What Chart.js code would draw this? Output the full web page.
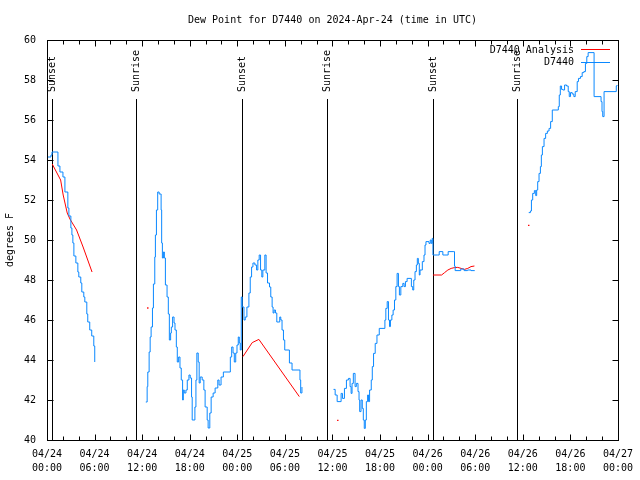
<!DOCTYPE html>
<html>
<head>
<meta charset="utf-8">
<script src="https://cdn.jsdelivr.net/npm/chart.js@4.4.1/dist/chart.umd.min.js"></script>
<style>
  html, body { margin: 0; padding: 0; background: #fff; }
</style>
</head>
<body>
<canvas id="dew" width="640" height="480"></canvas>
<script>
// observed dew point (D7440), hours since 04/24 00:00 UTC, in gaps-separated pieces
const obsHours1 = [0.13, 0.50, 0.63, 1.38, 1.63, 2.01, 2.26, 2.63, 2.76, 3.01, 3.14, 3.26, 3.39, 3.64, 3.89, 4.01, 4.26, 4.39, 4.64, 4.77, 5.02, 5.14, 5.39, 5.64, 5.90, 6.02];
const obsDew1   = [54.15, 54.25, 54.4, 53.7, 53.4, 53.15, 52.4, 51.6, 51.2, 50.6, 50.25, 49.85, 49.2, 48.85, 48.4, 48.15, 47.85, 47.4, 47.15, 46.9, 46.3, 45.9, 45.5, 45.2, 44.7, 43.9];

const obsHours2 = [12.46, 12.63, 12.71, 12.88, 13.01, 13.13, 13.30, 13.42, 13.59, 13.67, 13.80, 13.96, 14.14, 14.39, 14.46, 14.55, 14.68, 14.80, 14.93, 15.14, 15.30, 15.43, 15.59, 15.68, 15.84, 16.02, 16.14, 16.31, 16.43, 16.60, 16.77, 16.93, 17.10, 17.19, 17.31, 17.52, 17.69, 17.90, 18.06, 18.23, 18.31, 18.65, 18.78, 18.90, 19.07, 19.19, 19.32, 19.57, 19.78, 19.94, 20.20, 20.32, 20.53, 20.70, 20.95, 21.20, 21.54, 21.70, 21.95, 22.24, 23.12, 23.29, 23.46, 23.62, 23.80, 23.96, 24.12, 24.25, 24.37, 24.50, 24.62, 24.84, 25.00, 25.21, 25.46, 25.63, 25.80, 25.97, 26.22, 26.43, 26.59, 26.76, 26.93, 27.09, 27.22, 27.47, 27.63, 27.81, 28.06, 28.22, 28.39, 28.51, 28.64, 28.81, 28.98, 29.35, 29.48, 29.64, 29.82, 29.98, 30.57, 30.90, 31.90, 31.99, 32.15];
const obsDew2   = [41.9, 42.67, 43.4, 44.4, 45.15, 45.65, 46.6, 47.8, 49.15, 50.25, 51.5, 52.4, 52.3, 51.5, 49.85, 49.1, 49.4, 49.1, 47.75, 47.15, 46.3, 45.0, 45.35, 45.65, 46.15, 45.85, 45.5, 44.65, 43.9, 44.15, 43.6, 43.0, 42.0, 42.5, 42.35, 42.5, 43.0, 43.25, 43.1, 42.15, 41.0, 41.65, 43.0, 44.35, 43.9, 42.85, 43.15, 43.0, 42.5, 41.65, 41.0, 40.6, 41.35, 42.15, 42.35, 42.6, 43.0, 42.75, 43.15, 43.4, 44.15, 44.65, 44.35, 43.9, 44.35, 44.75, 45.15, 44.85, 44.5, 47.15, 46.65, 46.0, 46.15, 46.65, 47.35, 48.15, 48.65, 48.85, 48.75, 48.5, 49.0, 49.25, 48.5, 48.15, 48.5, 49.25, 48.35, 47.85, 47.65, 47.15, 46.65, 46.35, 46.5, 46.35, 45.9, 46.15, 46.0, 45.5, 45.0, 44.5, 43.85, 43.5, 43.0, 42.35, 42.65];

const obsHours3 = [36.13, 36.34, 36.59, 37.09, 37.26, 37.51, 37.76, 38.01, 38.22, 38.35, 38.47, 38.63, 38.85, 39.01, 39.22, 39.35, 39.43, 39.60, 39.76, 39.89, 40.01, 40.14, 40.27, 40.43, 40.55, 40.68, 40.89, 41.02, 41.18, 41.39, 41.61, 41.90, 42.61, 42.73, 42.90, 43.06, 43.19, 43.31, 43.49, 43.65, 43.82, 43.99, 44.15, 44.32, 44.44, 44.62, 44.87, 45.03, 45.20, 45.41, 45.95, 46.12, 46.25, 46.41, 46.58, 46.70, 46.83, 46.95, 47.04, 47.33, 47.54, 47.67, 47.79, 48.17, 48.33, 48.46, 48.58, 48.67, 49.26, 49.46, 49.92, 50.18, 50.59, 51.22, 51.39, 51.47, 52.18, 52.60, 53.02, 53.47, 53.94];
const obsDew3   = [42.53, 42.25, 41.92, 42.33, 42.08, 42.58, 43.0, 43.08, 42.67, 42.33, 42.83, 43.33, 42.67, 42.83, 42.42, 42.0, 41.42, 42.0, 41.58, 41.0, 40.58, 41.0, 41.92, 42.25, 41.92, 42.5, 43.0, 43.67, 44.33, 44.83, 45.25, 45.58, 46.0, 46.58, 46.92, 46.0, 45.67, 46.0, 46.25, 46.5, 47.0, 47.67, 48.33, 47.67, 47.25, 47.67, 47.83, 47.67, 47.92, 48.08, 47.67, 47.5, 48.0, 48.42, 48.75, 49.08, 48.83, 48.25, 48.5, 48.92, 49.25, 49.75, 49.92, 49.83, 50.0, 49.83, 50.08, 49.25, 49.25, 49.42, 49.25, 49.25, 49.42, 49.42, 48.7, 48.47, 48.55, 48.47, 48.5, 48.47, 48.47];

const obsHours4 = [60.75, 60.96, 61.09, 61.25, 61.46, 61.63, 61.75, 61.88, 62.05, 62.22, 62.34, 62.47, 62.68, 62.88, 63.10, 63.31, 63.51, 63.72, 64.48, 64.60, 64.73, 64.89, 65.06, 65.27, 65.52, 65.73, 65.86, 66.02, 66.23, 66.44, 66.61, 66.86, 67.02, 67.27, 67.49, 67.70, 67.90, 68.07, 68.24, 68.99, 69.87, 69.99, 70.08, 70.25, 71.79, 71.88];
const obsDew4   = [51.37, 51.45, 52.0, 52.33, 52.47, 52.22, 52.5, 52.92, 53.33, 53.67, 54.25, 54.67, 55.08, 55.33, 55.45, 55.58, 55.92, 56.5, 56.67, 57.25, 57.7, 57.53, 57.5, 57.75, 57.7, 57.42, 57.17, 57.37, 57.3, 57.17, 57.42, 57.92, 58.08, 58.17, 58.37, 58.42, 58.83, 59.17, 59.37, 57.17, 56.92, 56.42, 56.17, 57.42, 57.7, 57.75];

// analysis (D7440 Analysis)
const anlHours1 = [0.66, 1.72, 2.04, 2.55, 2.89, 3.73, 4.55, 5.68];
const anlDew1   = [53.8, 53.0, 52.25, 51.35, 51.05, 50.5, 49.65, 48.4];
const anlHours2 = [24.71, 25.88, 26.72, 31.82];
const anlDew2   = [44.17, 44.87, 45.03, 42.17];
const anlHours3 = [48.67, 49.76, 50.14, 50.55, 50.97, 51.39, 51.80, 52.22, 52.64, 53.06, 53.47, 53.90];
const anlDew3   = [48.25, 48.25, 48.37, 48.5, 48.58, 48.62, 48.63, 48.58, 48.53, 48.58, 48.67, 48.7];
const anlDotHours = [12.71, 36.67, 60.75];
const anlDotDew   = [46.6, 40.98, 50.73];

// sun events
const eventHours = [0.66, 11.25, 24.63, 35.29, 48.72, 59.26];
const eventNames = ["Sunset", "Sunrise", "Sunset", "Sunrise", "Sunset", "Sunrise"];

const FONT = "'DejaVu Sans Mono', monospace";
const BLUE = "#0a88ff";
const RED = "#ff0000";

function pts(hours, vals) {
  return hours.map((h, i) => ({ x: h, y: vals[i] }));
}

function obsSet(h, v) {
  return { label: "D7440", data: pts(h, v), borderColor: BLUE, borderWidth: 1, pointRadius: 0, stepped: true, fill: false };
}
function anlSet(h, v) {
  return { label: "D7440 Analysis", data: pts(h, v), borderColor: RED, borderWidth: 1, pointRadius: 0, fill: false };
}

// gnuplot-like frame, inward ticks, sun markers, title and key
const decor = {
  id: "decor",
  beforeDatasetsDraw(chart) {
    const { ctx, chartArea: a, scales } = chart;
    ctx.save();
    ctx.strokeStyle = "#000";
    ctx.lineWidth = 1;
    ctx.fillStyle = "#000";
    ctx.font = "10px " + FONT;
    const yTop = Math.round(scales.y.getPixelForValue(57.05));
    eventHours.forEach((h, i) => {
      const x = Math.round(scales.x.getPixelForValue(h)) + 0.5;
      ctx.beginPath();
      ctx.moveTo(x, yTop);
      ctx.lineTo(x, a.bottom);
      ctx.stroke();
      ctx.save();
      ctx.translate(x, yTop - 7);
      ctx.rotate(-Math.PI / 2);
      ctx.textAlign = "left";
      ctx.textBaseline = "middle";
      ctx.fillText(eventNames[i], 0, 0);
      ctx.restore();
    });
    ctx.restore();
  },
  afterDraw(chart) {
    const { ctx, chartArea: a, scales } = chart;
    ctx.save();
    ctx.strokeStyle = "#000";
    ctx.lineWidth = 1;
    const L = Math.round(a.left) + 0.5, R = Math.round(a.right) + 0.5;
    const T = Math.round(a.top) + 0.5, B = Math.round(a.bottom) + 0.5;
    ctx.strokeRect(L, T, R - L, B - T);
    ctx.beginPath();
    for (let h = 0; h <= 72; h += 2) {
      const x = Math.round(scales.x.getPixelForValue(h)) + 0.5;
      const len = h % 6 === 0 ? 6 : 4;
      ctx.moveTo(x, B); ctx.lineTo(x, B - len);
      ctx.moveTo(x, T); ctx.lineTo(x, T + len);
    }
    for (let v = 40; v <= 60; v += 2) {
      const y = Math.round(scales.y.getPixelForValue(v)) + 0.5;
      ctx.moveTo(L, y); ctx.lineTo(L + 6, y);
      ctx.moveTo(R, y); ctx.lineTo(R - 6, y);
    }
    ctx.stroke();

    // title
    ctx.fillStyle = "#000";
    ctx.font = "10px " + FONT;
    ctx.textAlign = "center";
    ctx.textBaseline = "middle";
    ctx.fillText("Dew Point for D7440 on 2024-Apr-24 (time in UTC)", (a.left + a.right) / 2, 20);

    // key
    const keys = [["D7440 Analysis", RED], ["D7440", BLUE]];
    ctx.textAlign = "right";
    keys.forEach(([label, color], i) => {
      const y = 50 + i * 12.5;
      ctx.fillStyle = "#000";
      ctx.fillText(label, 574, y);
      ctx.strokeStyle = color;
      ctx.beginPath();
      ctx.moveTo(581, Math.round(y) - 0.5);
      ctx.lineTo(610, Math.round(y) - 0.5);
      ctx.stroke();
    });
    ctx.restore();
  }
};

new Chart(document.getElementById("dew"), {
  type: "line",
  data: {
    datasets: [
      obsSet(obsHours1, obsDew1),
      obsSet(obsHours2, obsDew2),
      obsSet(obsHours3, obsDew3),
      obsSet(obsHours4, obsDew4),
      anlSet(anlHours1, anlDew1),
      anlSet(anlHours2, anlDew2),
      anlSet(anlHours3, anlDew3),
      { label: "D7440 Analysis", data: pts(anlDotHours, anlDotDew), showLine: false, pointRadius: 1,
        pointStyle: "rect", backgroundColor: RED, borderColor: RED, borderWidth: 0 }
    ]
  },
  options: {
    responsive: false,
    animation: false,
    devicePixelRatio: 1,
    layout: { padding: { top: 40, right: 19, left: 0, bottom: 0 } },
    plugins: { legend: { display: false }, title: { display: false }, tooltip: { enabled: false } },
    scales: {
      x: {
        type: "linear",
        min: 0,
        max: 72,
        afterFit: (s) => { s.height = 40; },
        grid: { display: false, drawTicks: false },
        border: { display: false },
        ticks: {
          stepSize: 6,
          maxRotation: 0,
          autoSkip: false,
          padding: 7,
          color: "#000",
          font: { family: FONT, size: 10, lineHeight: 1.4 },
          callback: (v) => {
            const day = 24 + Math.floor(v / 24);
            const hr = String(v % 24).padStart(2, "0");
            return ["04/" + day, hr + ":00"];
          }
        }
      },
      y: {
        min: 40,
        max: 60,
        afterFit: (s) => { s.width = 47; },
        grid: { display: false, drawTicks: false },
        border: { display: false },
        ticks: { stepSize: 2, padding: 11, color: "#000", font: { family: FONT, size: 10 } },
        title: { display: true, text: "degrees F", color: "#000", font: { family: FONT, size: 10 }, padding: { top: 4, bottom: 0 } }
      }
    }
  },
  plugins: [decor]
});
</script>
</body>
</html>
